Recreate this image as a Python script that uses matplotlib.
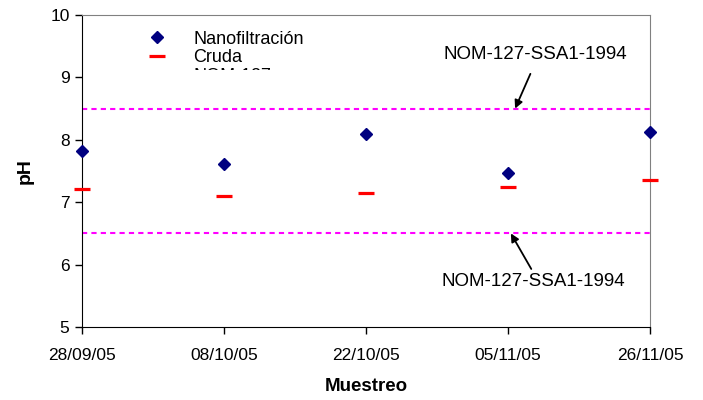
import numpy as np
import matplotlib
matplotlib.use("Agg")
import matplotlib.pyplot as plt
from matplotlib.patches import Rectangle

# data
fechas = ["28/09/05", "08/10/05", "22/10/05", "05/11/05", "26/11/05"]
nanofiltracion = [7.82, 7.62, 8.09, 7.47, 8.12]
cruda = [7.21, 7.10, 7.15, 7.24, 7.35]
nom_max = 8.5
nom_min = 6.5
nom_label = "NOM-127-SSA1-1994"

plt.rcParams['font.family'] = ['Liberation Sans', 'DejaVu Sans']

fig = plt.figure(figsize=(7.03, 4.0), dpi=100)
ax = fig.add_axes([82/703, 1-327/400, 568/703, 312/400])

x = np.arange(len(fechas))
ax.plot(x, nanofiltracion, 'D', color='#000080', markersize=5.8, clip_on=False,
        zorder=5, label="Nanofiltración")
ax.plot(x, cruda, '_', color='#ff0000', markersize=11, markeredgewidth=2.3,
        clip_on=False, zorder=5, label="Cruda")
ax.axhline(nom_max, color='#ff00ff', lw=1.5, ls=(0, (2.5, 2)), label="NOM-127")
ax.axhline(nom_min, color='#ff00ff', lw=1.5, ls=(0, (2.5, 2)))

ax.set_xlim(0, len(fechas)-1)
ax.set_ylim(5, 10)
ax.set_yticks(range(5, 11))
ax.set_xticks(x)
ax.set_xticklabels(fechas)
ax.tick_params(direction='out', length=5, width=1, color='black',
               labelsize=12.5, pad=4)
ax.tick_params(axis='x', pad=10)

for s in ['left', 'bottom']:
    ax.spines[s].set_color('black')
for s in ['top', 'right']:
    ax.spines[s].set_color('#808080')

ax.set_xlabel("Muestreo", fontsize=13.5, fontweight='bold', labelpad=11)
ax.set_ylabel("pH", fontsize=14, fontweight='bold', labelpad=12)

ax.annotate(nom_label, xy=(3.05, nom_max), xytext=(3.19, 9.36), fontsize=13.5,
            ha='center', va='center',
            arrowprops=dict(arrowstyle='-|>', color='black', lw=1.3,
                            mutation_scale=12, shrinkA=6, shrinkB=0,
                            relpos=(0.5, 0)))
ax.annotate(nom_label, xy=(3.02, nom_min), xytext=(3.18, 5.73), fontsize=13.5,
            ha='center', va='center',
            arrowprops=dict(arrowstyle='-|>', color='black', lw=1.3,
                            mutation_scale=12, shrinkA=1, shrinkB=0,
                            relpos=(0.5, 1)))

leg = ax.legend(loc='upper left', bbox_to_anchor=(0.085, 0.99), frameon=False,
                fontsize=13, labelspacing=0.08, handlelength=1.6,
                handletextpad=1.2, borderaxespad=0.3)

# the third legend entry is cut off in the original
fig.patches.append(Rectangle((140/703, 1-94/400), 200/703, 24/400,
                             transform=fig.transFigure, facecolor='white',
                             edgecolor='none', zorder=20))

fig.savefig("out.png", dpi=100)
